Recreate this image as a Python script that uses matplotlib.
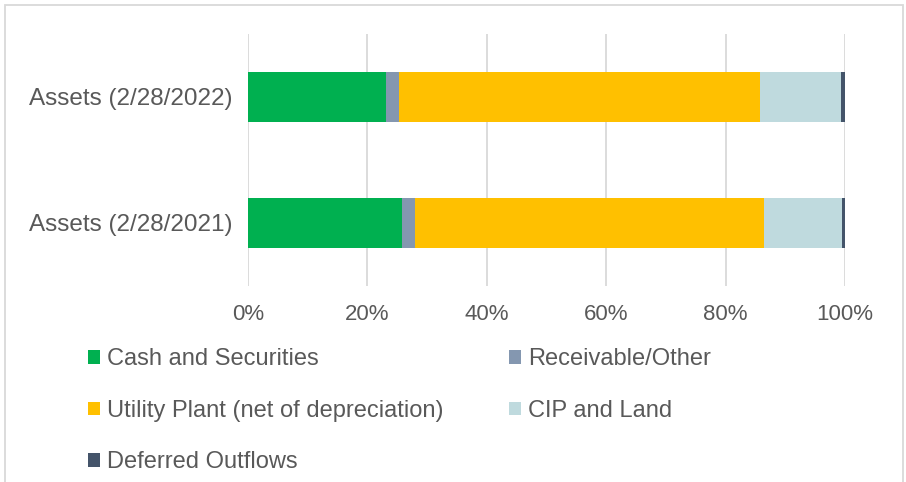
import matplotlib
matplotlib.use("Agg")
import matplotlib.pyplot as plt
from matplotlib.patches import Rectangle
from matplotlib.ticker import FuncFormatter

plt.rcParams['font.family'] = ['Liberation Sans', 'DejaVu Sans']

categories = ["Assets (2/28/2021)", "Assets (2/28/2022)"]
series_names = ["Cash and Securities", "Receivable/Other",
                "Utility Plant (net of depreciation)", "CIP and Land",
                "Deferred Outflows"]
cash = [25.8, 23.1]
receivable = [2.2, 2.2]
utility_plant = [58.5, 60.5]
cip_land = [13.0, 13.5]
deferred = [0.5, 0.7]
x_ticks = [0, 20, 40, 60, 80, 100]

colors = ["#00B050", "#8497B0", "#FFC000", "#BFDADE", "#44546A"]
text_color = "#595959"
grid_color = "#D9D9D9"

fig = plt.figure(figsize=(9.06, 4.82), dpi=100)
ax = fig.add_axes([248 / 906, 1 - 286 / 482, 597 / 906, 252 / 482])

series = [cash, receivable, utility_plant, cip_land, deferred]
left = [0.0] * len(categories)
for name, vals, col in zip(series_names, series, colors):
    ax.barh(range(len(categories)), vals, left=left, height=0.4,
            color=col, label=name, zorder=3)
    left = [l + v for l, v in zip(left, vals)]

ax.set_xlim(0, 100)
ax.set_ylim(-0.5, 1.5)
ax.set_xticks(x_ticks)
ax.xaxis.set_major_formatter(FuncFormatter(lambda v, p: f"{v:.0f}%"))
ax.set_yticks(range(len(categories)))
ax.set_yticklabels(categories)
ax.tick_params(axis='both', length=0, colors=text_color)
ax.tick_params(axis='x', pad=13, labelsize=16)
ax.tick_params(axis='y', pad=11, labelsize=17.5)
ax.grid(axis='x', color=grid_color, linewidth=1.3, zorder=0)
for s in ax.spines.values():
    s.set_visible(False)

# legend filled row by row: two columns
handles, labels = ax.get_legend_handles_labels()
order = [0, 2, 4, 1, 3]
leg = fig.legend([handles[i] for i in order], [labels[i] for i in order],
                 loc='upper left', ncol=2,
                 bbox_to_anchor=(79 / 906, 1 - 339 / 482), frameon=False,
                 fontsize=17, labelcolor=text_color, handlelength=0.5,
                 handleheight=0.5, handletextpad=0.3, labelspacing=1.25,
                 columnspacing=2.75, borderaxespad=0)

fig.patches.append(Rectangle((5 / 906, -0.05), 898 / 906, 1.05 - 5 / 482,
                             transform=fig.transFigure, fill=False,
                             edgecolor=grid_color, linewidth=1.3))

fig.savefig("out.png", dpi=100)
